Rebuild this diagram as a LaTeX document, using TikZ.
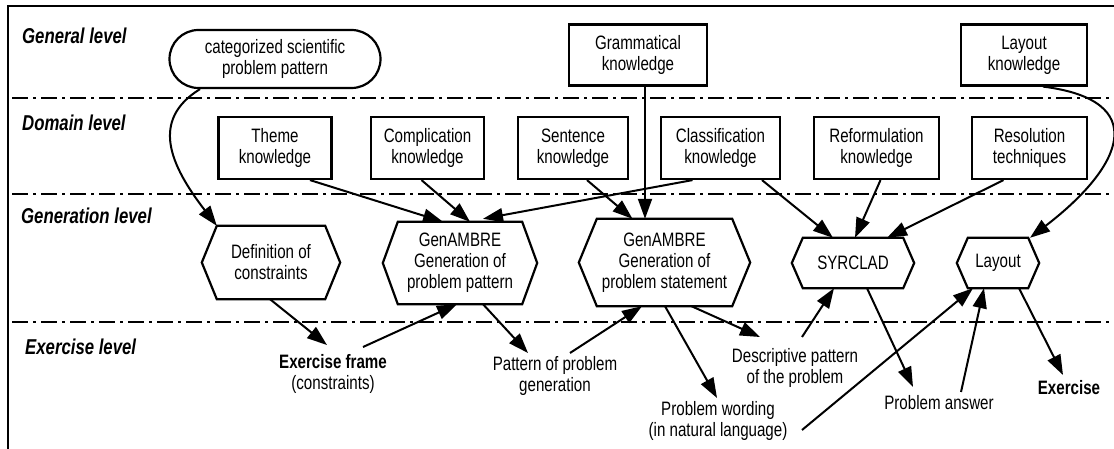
\documentclass[tikz,border=0pt]{standalone}
\usepackage{fontspec}
\setmainfont{Liberation Sans}[FakeStretch=0.78]
\usetikzlibrary{arrows.meta,calc,shapes.misc}
\newcommand\mytxt{\fontsize{19.4pt}{21pt}\selectfont}
\newcommand\mylvl{\fontsize{21.5pt}{23pt}\selectfont\bfseries\itshape}
\newcommand\hexnode[7]{%
  \node[hexin,minimum width=#4pt,minimum height=#5pt] (#1) at (#2,#3) {#7};
  \draw[hexline] (#1.north west) -- (#1.north east) -- ($(#1.east)+(#6,0)$)
    -- (#1.south east) -- (#1.south west) -- ($(#1.west)+(-#6,0)$) -- cycle;}
\begin{document}
\begin{tikzpicture}[x=1pt,y=-1pt,
  arr/.style={line width=2pt,-{Triangle[length=20pt,width=14pt]}},
  kbox/.style={draw,line width=2.2pt,minimum height=62pt,align=center,inner sep=2pt,font=\mytxt},
  hexin/.style={align=center,inner sep=2pt,font=\mytxt},
  hexline/.style={line width=2.2pt},
  plain/.style={align=center,inner sep=0pt,font=\mytxt},
  lvl/.style={anchor=west,inner sep=0pt,font=\mylvl},
  sepline/.style={line width=2.2pt,dash pattern=on 16pt off 5pt on 3pt off 5pt},
  frameline/.style={line width=2.2pt}]
\useasboundingbox (0,0) rectangle (1114,449);
\fill[white] (0,0) rectangle (1114,449);
% frame and level separators
\draw[frameline] (8,449) -- (8,6) -- (1114,6);
\draw[sepline] (12,98) -- (1114,98);
\draw[sepline] (12,194) -- (1114,194);
\draw[sepline] (12,322) -- (1114,322);
% level labels
\node[lvl] (lgen) at (22,36) {General level};
\node[lvl] (ldom) at (22,123) {Domain level};
\node[lvl] (lgnr) at (21,216) {Generation level};
\node[lvl] (lexe) at (25,347) {Exercise level};
% general level
\node[draw,line width=2.2pt,rounded rectangle,minimum width=215pt,minimum height=58pt,align=center,inner sep=2pt,font=\mytxt] (cat) at (275,59) {categorized scientific\\problem pattern};
\node[kbox,minimum width=138pt,minimum height=61pt] (gram) at (638,55) {Grammatical\\knowledge};
\node[kbox,minimum width=126pt,minimum height=61pt] (layk) at (1024,55) {Layout\\knowledge};
% domain level
\node[kbox,minimum width=113pt] (theme) at (275,148) {Theme\\knowledge};
\node[kbox,minimum width=113pt] (compl) at (427.5,148) {Complication\\knowledge};
\node[kbox,minimum width=110pt] (sent) at (573,148) {Sentence\\knowledge};
\node[kbox,minimum width=119pt] (class) at (720.5,148) {Classification\\knowledge};
\node[kbox,minimum width=125pt] (reform) at (876.5,148) {Reformulation\\knowledge};
\node[kbox,minimum width=115pt] (resol) at (1029.5,148) {Resolution\\techniques};
% generation level
\hexnode{def}{271}{262.5}{108}{73}{15}{Definition of\\constraints}
\hexnode{gp}{460}{263}{124}{82}{15}{GenAMBRE\\Generation of\\problem pattern}
\hexnode{gs}{664.5}{262.5}{135}{87}{18}{GenAMBRE\\Generation of\\problem statement}
\hexnode{syr}{853}{263}{100}{50}{11}{SYRCLAD}
\hexnode{lay}{998}{263}{60}{50}{11}{Layout}
% exercise level
\node[plain] (exf) at (333,374) {\textbf{Exercise frame}\\(constraints)};
\node[plain] (ppg) at (555,376) {Pattern of problem\\generation};
\node[plain] (pw) at (718,421) {Problem wording\\(in natural language)};
\node[plain] (dpp) at (795,368) {Descriptive pattern\\of the problem};
\node[plain] (pa) at (939,403) {Problem answer};
\node[plain] (ex) at (1069,388) {\textbf{Exercise}};
% connectors
\draw[arr] ($(cat.south)+(-75,0)$) .. controls (150,120) and (170,165) .. (def.north west);
\draw[arr] ($(theme.south)+(35,0)$) -- ($(gp.north)+(-17,0)$);
\draw[arr] ($(compl.south)+(-6,0)$) -- ($(gp.north)+(10,0)$);
\draw[arr] ($(class.south)+(-28,0)$) -- ($(gp.north)+(23,-3)$);
\draw[arr] ($(sent.south)+(14,0)$) -- ($(gs.north)+(-32,0)$);
\coordinate (g1) at ($(gram.south)+(7,0)$);
\draw[arr] (g1) -- (g1 |- gs.north);
\draw[arr] ($(class.south)+(41.5,0)$) -- ($(syr.north)+(-20,0)$);
\draw[arr] ($(reform.south)+(4,0)$) -- ($(syr.north)+(2,0)$);
\draw[arr] ($(resol.south)+(-26,0)$) -- ($(syr.north)+(34,0)$);
\draw[arr] ($(layk.south)+(19,0)$) .. controls (1150,100) and (1125,165) .. ($(lay.north)+(32,0)$);
\draw[arr] ($(def.south)+(-1,0)$) -- ($(exf)+(-6,-29)$);
\draw[arr] ($(exf)+(30,-27)$) -- ($(gp.south)+(-3,0)$);
\draw[arr] ($(gp.south)+(23,0)$) -- ($(ppg)+(-27,-23)$);
\draw[arr] ($(ppg)+(15,-23)$) -- ($(gs.south)+(-22.5,0)$);
\draw[arr] ($(gs.south)+(0.5,0)$) -- ($(pw)+(-1,-23)$);
\draw[arr] ($(gs.south)+(27,0)$) -- ($(dpp)+(-35,-31)$);
\draw[arr] ($(dpp)+(7,-31)$) -- ($(syr.south)+(-19,0)$);
\draw[arr] ($(syr.south)+(14,0)$) -- ($(pa)+(-26,-16)$);
\draw[arr] ($(pw)+(84,9)$) -- ($(lay.south)+(-25,0)$);
\draw[arr] ($(pa)+(22,-11)$) -- ($(lay.south)+(-14,0)$);
\draw[arr] ($(lay.south)+(21,0)$) -- ($(ex)+(-6,-13)$);
\end{tikzpicture}
\end{document}
